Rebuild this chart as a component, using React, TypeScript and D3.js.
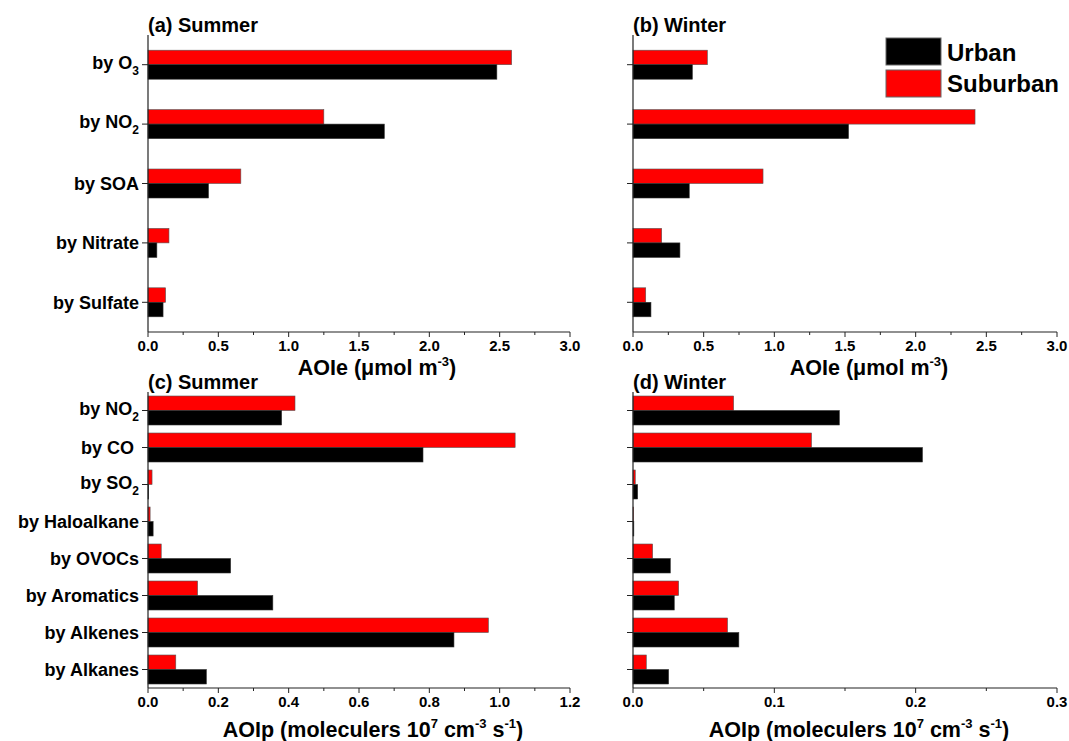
import React from "react";
import * as d3 from "d3";

// ---- data ----
const aoieCategories = ["by O3", "by NO2", "by SOA", "by Nitrate", "by Sulfate"];
const aoipCategories = ["by NO2", "by CO ", "by SO2", "by Haloalkane", "by OVOCs", "by Aromatics", "by Alkenes", "by Alkanes"];

const summerAOIeUrban = [2.48, 1.68, 0.43, 0.063, 0.107];
const summerAOIeSuburban = [2.585, 1.25, 0.66, 0.149, 0.125];
const winterAOIeUrban = [0.42, 1.525, 0.398, 0.332, 0.127];
const winterAOIeSuburban = [0.526, 2.42, 0.92, 0.203, 0.09];

const summerAOIpUrban = [0.38, 0.782, 0.002, 0.0146, 0.235, 0.355, 0.87, 0.166];
const summerAOIpSuburban = [0.418, 1.044, 0.0115, 0.006, 0.0376, 0.141, 0.968, 0.079];
const winterAOIpUrban = [0.146, 0.2048, 0.0033, 0.0006, 0.0264, 0.0292, 0.0749, 0.0252];
const winterAOIpSuburban = [0.0712, 0.1263, 0.0016, 0.0004, 0.0139, 0.0323, 0.0669, 0.0094];

const aoieMajorTicks = [0, 0.5, 1.0, 1.5, 2.0, 2.5, 3.0];
const aoieMinorTicks = [0.25, 0.75, 1.25, 1.75, 2.25, 2.75];
const summerAOIpMajorTicks = [0, 0.2, 0.4, 0.6, 0.8, 1.0, 1.2];
const summerAOIpMinorTicks = [0.1, 0.3, 0.5, 0.7, 0.9, 1.1];
const winterAOIpMajorTicks = [0, 0.1, 0.2, 0.3];
const winterAOIpMinorTicks = [0.05, 0.15, 0.25];

const seriesNames = ["Urban", "Suburban"];
const seriesColors = ["#000000", "#ff0000"];

const FONT = "'Liberation Sans', Arial, Helvetica, sans-serif";

function CatLabel({ text, x, y }: { text: string; x: number; y: number }) {
  const m = text.match(/^(.*[A-Z])(\d)$/);
  if (m) {
    return (
      <text x={x} y={y + 4} textAnchor="end" fontSize={18} fontWeight="bold" fontFamily={FONT}>
        {m[1]}
        <tspan fontSize={12} dy={6}>{m[2]}</tspan>
      </text>
    );
  }
  return (
    <text x={x} y={y} dy={6.5} textAnchor="end" fontSize={18} fontWeight="bold" fontFamily={FONT} style={{ whiteSpace: "pre" }}>
      {text}
    </text>
  );
}

type PanelProps = {
  title: string;
  categories: string[];
  urban: number[];
  suburban: number[];
  xMax: number;
  majorTicks: number[];
  minorTicks: number[];
  left: number;
  right: number;
  top: number;
  bottom: number;
  showLabels: boolean;
  barH: number;
};

function Panel(p: PanelProps) {
  const x = d3.scaleLinear().domain([0, p.xMax]).range([p.left, p.right]);
  const y = d3.scaleBand<string>().domain(p.categories).range([p.top, p.bottom]).padding(0);
  const fmt = d3.format(".1f");
  return (
    <g>
      <text x={p.left} y={p.top - 3} fontSize={20} fontWeight="bold" fontFamily={FONT}>{p.title}</text>
      {p.categories.map((c, i) => {
        const cy = (y(c) as number) + y.bandwidth() / 2;
        return (
          <g key={c}>
            <rect x={x(0)} y={cy - p.barH} width={x(p.suburban[i]) - x(0)} height={p.barH}
              fill={seriesColors[1]} stroke="#555" strokeWidth={0.6} />
            <rect x={x(0)} y={cy} width={x(p.urban[i]) - x(0)} height={p.barH}
              fill={seriesColors[0]} stroke="#333" strokeWidth={0.6} />
            <line x1={p.left - 6} x2={p.left} y1={cy} y2={cy} stroke="#222" strokeWidth={1} />
            {p.showLabels && <CatLabel text={c} x={p.left - 9} y={cy} />}
          </g>
        );
      })}
      <line x1={p.left} x2={p.left} y1={p.top} y2={p.bottom} stroke="#222" strokeWidth={1.2} />
      <line x1={p.left} x2={p.right} y1={p.bottom} y2={p.bottom} stroke="#222" strokeWidth={1.2} />
      {p.majorTicks.map((t) => (
        <g key={"M" + t}>
          <line x1={x(t)} x2={x(t)} y1={p.bottom} y2={p.bottom + 5} stroke="#222" strokeWidth={1} />
          <text x={x(t)} y={p.bottom + 19} textAnchor="middle" fontSize={15} fontWeight="bold" fontFamily={FONT}>{fmt(t)}</text>
        </g>
      ))}
      {p.minorTicks.map((t) => (
        <line key={"m" + t} x1={x(t)} x2={x(t)} y1={p.bottom} y2={p.bottom + 3} stroke="#222" strokeWidth={1} />
      ))}
    </g>
  );
}

export default function App() {
  const W = 1069, H = 741;
  const aL = 148, aR = 570, bL = 633, bR = 1057;
  const topT = 35, topB = 332, botT = 392, botB = 688;
  return (
    <svg width={W} height={H} style={{ position: "absolute", left: 0, top: 0, background: "#fff" }}>
      <rect width={W} height={H} fill="#fff" />
      <Panel title="(a) Summer" categories={aoieCategories} urban={summerAOIeUrban} suburban={summerAOIeSuburban}
        xMax={3} majorTicks={aoieMajorTicks} minorTicks={aoieMinorTicks}
        left={aL} right={aR} top={topT} bottom={topB} showLabels={true} barH={14.5} />
      <Panel title="(b) Winter" categories={aoieCategories} urban={winterAOIeUrban} suburban={winterAOIeSuburban}
        xMax={3} majorTicks={aoieMajorTicks} minorTicks={aoieMinorTicks}
        left={bL} right={bR} top={topT} bottom={topB} showLabels={false} barH={14.5} />
      <Panel title="(c) Summer" categories={aoipCategories} urban={summerAOIpUrban} suburban={summerAOIpSuburban}
        xMax={1.2} majorTicks={summerAOIpMajorTicks} minorTicks={summerAOIpMinorTicks}
        left={aL} right={aR} top={botT} bottom={botB} showLabels={true} barH={14.5} />
      <Panel title="(d) Winter" categories={aoipCategories} urban={winterAOIpUrban} suburban={winterAOIpSuburban}
        xMax={0.3} majorTicks={winterAOIpMajorTicks} minorTicks={winterAOIpMinorTicks}
        left={bL} right={bR} top={botT} bottom={botB} showLabels={false} barH={14.5} />

      {[aL + (aR - aL) / 2 + 18, bL + (bR - bL) / 2 + 24].map((cx, i) => (
        <text key={"xe" + i} x={cx} y={375} textAnchor="middle" fontSize={21.5} fontWeight="bold" fontFamily={FONT}>
          AOIe (μmol m<tspan fontSize={13} dy={-9}>-3</tspan><tspan dy={9}>)</tspan>
        </text>
      ))}
      {[aL + (aR - aL) / 2 + 14, bL + (bR - bL) / 2 + 14].map((cx, i) => (
        <text key={"xp" + i} x={cx} y={737} textAnchor="middle" fontSize={21.5} fontWeight="bold" fontFamily={FONT}>
          AOIp (moleculers 10<tspan fontSize={13} dy={-9}>7</tspan><tspan dy={9}> cm</tspan>
          <tspan fontSize={13} dy={-9}>-3</tspan><tspan dy={9}> s</tspan>
          <tspan fontSize={13} dy={-9}>-1</tspan><tspan dy={9}>)</tspan>
        </text>
      ))}

      {seriesNames.map((s, i) => (
        <g key={s}>
          <rect x={886} y={38 + i * 32} width={55} height={27} fill={seriesColors[i]} stroke="#666" strokeWidth={1} />
          <text x={947} y={61 + i * 31} fontSize={24} fontWeight="bold" fontFamily={FONT}>{s}</text>
        </g>
      ))}
    </svg>
  );
}
